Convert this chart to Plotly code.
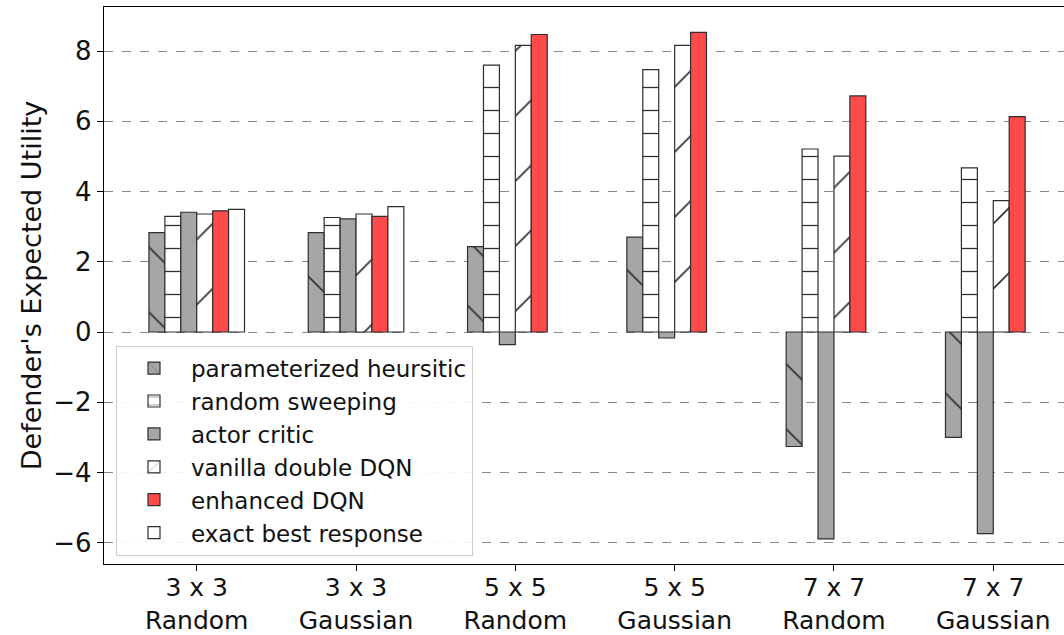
import plotly.graph_objects as go

categories = ["3 x 3<br>Random", "3 x 3<br>Gaussian", "5 x 5<br>Random",
              "5 x 5<br>Gaussian", "7 x 7<br>Random", "7 x 7<br>Gaussian"]

parameterized_heuristic = [2.83, 2.83, 2.43, 2.70, -3.26, -3.00]
random_sweeping = [3.29, 3.26, 7.60, 7.47, 5.21, 4.67]
actor_critic = [3.41, 3.22, -0.36, -0.17, -5.89, -5.74]
vanilla_double_dqn = [3.36, 3.36, 8.16, 8.16, 5.01, 3.74]
enhanced_dqn = [3.45, 3.29, 8.47, 8.53, 6.72, 6.13]
exact_best_response = [3.49, 3.57, None, None, None, None]

series_names = ["parameterized heursitic", "random sweeping", "actor critic",
                "vanilla double DQN", "enhanced DQN", "exact best response"]
series_values = [parameterized_heuristic, random_sweeping, actor_critic,
                 vanilla_double_dqn, enhanced_dqn, exact_best_response]

y_ticks = [-6, -4, -2, 0, 2, 4, 6, 8]

GRAY = "#a6a6a6"
RED = "#ff4a4a"
WHITE = "#ffffff"
EDGE = "#2e2e2e"

styles = [
    dict(color=GRAY, shape="\\", size=46, sol=0.035),
    dict(color=WHITE, shape="-", size=23, sol=0.055),
    dict(color=GRAY, shape="", size=10, sol=0.3),
    dict(color=WHITE, shape="/", size=46, sol=0.035),
    dict(color=RED, shape="", size=10, sol=0.3),
    dict(color=WHITE, shape="", size=10, sol=0.3),
]

FONT = "DejaVu Sans"

fig = go.Figure()
for name, vals, st in zip(series_names, series_values, styles):
    fig.add_trace(go.Bar(
        x=categories, y=vals, name=name,
        marker=dict(
            color=st["color"],
            line=dict(color=EDGE, width=1.2),
            pattern=dict(shape=st["shape"], size=st["size"], solidity=st["sol"],
                         fgcolor=EDGE, bgcolor=st["color"], fillmode="replace"),
        ),
    ))

fig.update_layout(
    width=1064, height=635,
    margin=dict(l=104, r=0, t=7, b=71),
    paper_bgcolor="white", plot_bgcolor="white",
    barmode="group", bargap=0.4, bargroupgap=0.0,
    font=dict(family=FONT, size=26, color="#111111"),
    showlegend=True,
    legend=dict(
        x=0.0125, y=0.392, xanchor="left", yanchor="top",
        bgcolor="rgba(255,255,255,0.9)", bordercolor="#cccccc", borderwidth=1,
        font=dict(family=FONT, size=23, color="#111111"),
        itemwidth=64, tracegroupgap=0,
    ),
)

fig.update_xaxes(
    type="category", range=[-0.582, 5.444], automargin=False,
    showline=True, linecolor="black", linewidth=1.3, mirror=True,
    ticks="outside", ticklen=6, tickcolor="black", tickwidth=1.2,
    tickfont=dict(family=FONT, size=25, color="#111111"),
    ticklabelstandoff=-5,
    showgrid=False,
)

fig.update_yaxes(
    range=[-6.605, 9.253], automargin=False,
    tickvals=y_ticks,
    showline=True, linecolor="black", linewidth=1.3, mirror=False,
    ticks="outside", ticklen=6, tickcolor="black", tickwidth=1.2,
    tickfont=dict(family=FONT, size=26, color="#111111"),
    showgrid=True, gridcolor="#8a8a8a", gridwidth=1, griddash="dash",
    zeroline=False,
    title=dict(text="Defender's Expected Utility", standoff=3,
               font=dict(family=FONT, size=27, color="#111111")),
)

fig.write_html("out.html",
               config={"displayModeBar": False},
               post_script="document.body.style.margin='0';document.body.style.overflow='hidden';")
